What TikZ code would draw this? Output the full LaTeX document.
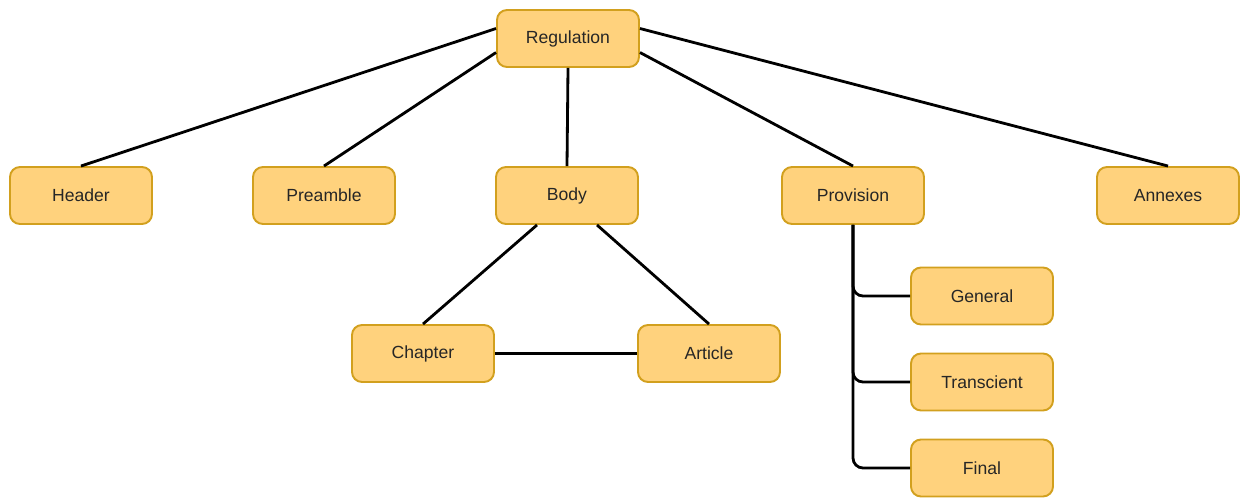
\documentclass[tikz,border=0pt]{standalone}
\usepackage{fontspec}
\setmainfont{Liberation Sans}
\usepackage{tikz}
\usetikzlibrary{positioning}
\definecolor{boxfill}{RGB}{255,210,125}
\definecolor{boxline}{RGB}{210,160,30}

\begin{document}
\begin{tikzpicture}[
  part/.style={draw=boxline,fill=boxfill,line width=1.1pt,rounded corners=2mm,
    minimum width=2.84cm,minimum height=1.14cm,font=\fontsize{10}{12}\selectfont,text=black!85},
  link/.style={line width=1.6pt,black}]
\useasboundingbox (0,0) rectangle (24.82,-9.98);

% Top level
\node[part] (reg) at (11.36,-0.77) {Regulation};

% Second level
\node[part] (head) at (1.62,-3.91) {Header};
\node[part] (pre) at (6.48,-3.91) {Preamble};
\node[part] (body) at (11.34,-3.91) {Body};
\node[part] (prov) at (17.06,-3.91) {Provision};
\node[part] (annex) at (23.36,-3.91) {Annexes};

% Body parts
\node[part] (chap) at (8.46,-7.07) {Chapter};
\node[part] (art) at (14.18,-7.07) {Article};

% Provision parts
\node[part] (gen) at (19.64,-5.92) {General};
\node[part] (trans) at (19.64,-7.64) {Transcient};
\node[part] (fin) at (19.64,-9.36) {Final};

% Links
\draw[link] ([yshift=2mm]reg.west) -- (head.north);
\draw[link] ([yshift=-2.8mm]reg.west) -- (pre.north);
\draw[link] (reg.south) -- (body.north);
\draw[link] ([yshift=-2.8mm]reg.east) -- (prov.north);
\draw[link] ([yshift=2mm]reg.east) -- (annex.north);
\draw[link] ([xshift=-6mm]body.south) -- (chap.north);
\draw[link] ([xshift=6mm]body.south) -- (art.north);
\draw[link] (chap.east) -- (art.west);
\foreach \n in {gen,trans,fin}
  \draw[link,rounded corners=2mm] (prov.south) |- (\n.west);
\end{tikzpicture}
\end{document}
